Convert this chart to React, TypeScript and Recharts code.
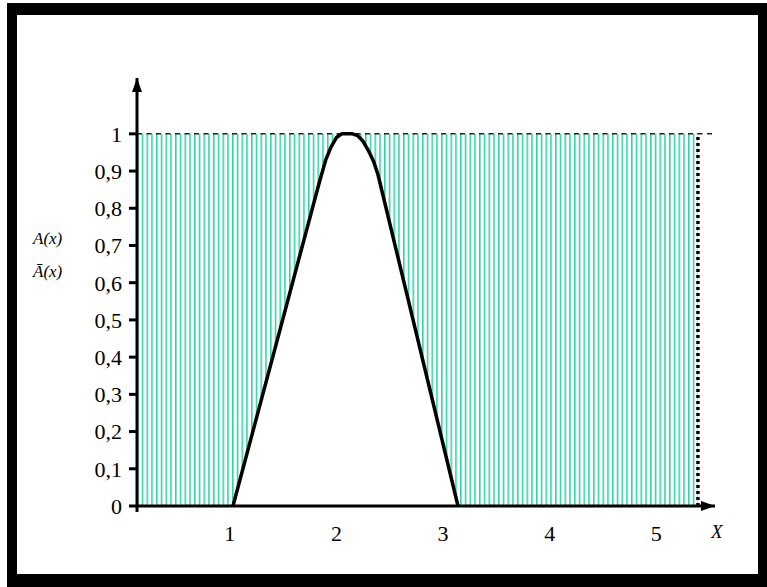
import React from 'react';
import {
    ComposedChart,
    Area,
    Line,
    XAxis,
    YAxis,
    ReferenceLine,
    ReferenceDot,
} from 'recharts';

// membership curve A(x), sampled along x (denser near the rounded top)
const xs = [0.13, 1.03, 1.84, 1.9, 1.95, 2.0, 2.05, 2.1, 2.15, 2.2, 2.25, 2.3, 2.35, 2.39, 3.14, 5.39];
const membership = [0, 0, 0.87, 0.93, 0.965, 0.99, 1, 1, 1, 0.995, 0.98, 0.955, 0.925, 0.89, 0, 0];
// where the black curve is drawn (ends sit on the axis itself)
const curveShown = [false, true, true, true, true, true, true, true, true, true, true, true, true, true, true, false];

const xTicks = [1, 2, 3, 4, 5];
const yTicks = [0, 0.1, 0.2, 0.3, 0.4, 0.5, 0.6, 0.7, 0.8, 0.9, 1];

const X_MIN = 0.13;
const X_MAX = 5.55;
const X_EDGE = 5.39;
const Y_MAX = 1.15;

const data = xs.map((x, i) => ({
    x,
    curve: curveShown[i] ? membership[i] : null,
    // complement band, from the curve up to 1
    band: [membership[i], 1],
}));

const serif = '"Liberation Serif", "DejaVu Serif", serif';

const ArrowUp = (props: any) => {
    const { cx, cy } = props;
    return <polygon points={`${cx},${cy} ${cx - 5},${cy + 14} ${cx + 5},${cy + 14}`} fill="#000" />;
};

const ArrowRight = (props: any) => {
    const { cx, cy } = props;
    return <polygon points={`${cx},${cy} ${cx - 14},${cy - 5} ${cx - 14},${cy + 5}`} fill="#000" />;
};

export default function App() {
    return (
        <div style={{ position: 'relative', width: 767, height: 587, background: '#fff', overflow: 'hidden' }}>
            <style>{'body{margin:0}'}</style>

            {/* black frame */}
            <div
                style={{
                    position: 'absolute',
                    left: 7,
                    top: 3,
                    width: 760,
                    height: 584,
                    boxSizing: 'border-box',
                    borderStyle: 'solid',
                    borderColor: '#000',
                    borderWidth: '12px 9px 13px 10px',
                    background: '#fff',
                }}
            />

            <svg width={0} height={0} style={{ position: 'absolute' }}>
                <defs>
                    <pattern id="hatch" patternUnits="userSpaceOnUse" x={137} y={0} width={9.5} height={10}>
                        <line x1={0.8} y1={0} x2={0.8} y2={10} stroke="#22d39e" strokeWidth={1.5} />
                        <line x1={5.5} y1={0} x2={5.5} y2={10} stroke="#22d39e" strokeWidth={1.5} />
                    </pattern>
                </defs>
            </svg>

            <div style={{ position: 'absolute', left: 0, top: 0 }}>
                <ComposedChart
                    width={767}
                    height={587}
                    data={data}
                    margin={{ top: 78, right: 52, bottom: 41, left: 0 }}
                >
                    <XAxis
                        dataKey="x"
                        type="number"
                        domain={[X_MIN, X_MAX]}
                        ticks={xTicks}
                        allowDataOverflow
                        height={40}
                        axisLine={{ stroke: '#000', strokeWidth: 3 }}
                        tickLine={false}
                        tickSize={0}
                        tickMargin={19}
                        tick={{ fill: '#000', fontSize: 22, fontFamily: serif }}
                    />
                    <YAxis
                        type="number"
                        domain={[0, Y_MAX]}
                        ticks={yTicks}
                        allowDataOverflow
                        width={137}
                        axisLine={{ stroke: '#000', strokeWidth: 3 }}
                        tickLine={{ stroke: '#000', strokeWidth: 3 }}
                        tickSize={8}
                        tickMargin={7}
                        tickFormatter={(v: number) => String(v).replace('.', ',')}
                        tick={{ fill: '#000', fontSize: 22, fontFamily: serif }}
                    />

                    <Area
                        dataKey="band"
                        type="linear"
                        stroke="none"
                        fill="url(#hatch)"
                        fillOpacity={1}
                        isAnimationActive={false}
                    />

                    {/* dashed level y = 1 */}
                    <ReferenceLine
                        segment={[{ x: X_MIN, y: 1 }, { x: X_MAX, y: 1 }]}
                        stroke="#222"
                        strokeWidth={1.5}
                        strokeDasharray="5 4.5"
                        ifOverflow="visible"
                    />
                    {/* dotted right boundary */}
                    <ReferenceLine
                        segment={[{ x: X_EDGE, y: 0 }, { x: X_EDGE, y: 1 }]}
                        stroke="#000"
                        strokeWidth={3.5}
                        strokeDasharray="3 3"
                        ifOverflow="visible"
                    />
                    {/* short stub of the y axis below the origin */}
                    <ReferenceLine
                        segment={[{ x: X_MIN, y: 0 }, { x: X_MIN, y: -0.016 }]}
                        stroke="#000"
                        strokeWidth={3}
                        ifOverflow="visible"
                    />

                    <Line
                        dataKey="curve"
                        type="linear"
                        stroke="#000"
                        strokeWidth={3.5}
                        strokeLinejoin="round"
                        dot={false}
                        activeDot={false}
                        isAnimationActive={false}
                    />

                    <ReferenceDot x={X_MIN} y={Y_MAX} r={0} shape={ArrowUp} ifOverflow="visible" />
                    <ReferenceDot x={X_MAX} y={0} r={0} shape={ArrowRight} ifOverflow="visible" />
                </ComposedChart>
            </div>

            <div style={{ position: 'absolute', left: 33, top: 230, fontFamily: serif, fontStyle: 'italic', fontSize: 17, lineHeight: '18px' }}>
                A(x)
            </div>
            <div style={{ position: 'absolute', left: 33, top: 263, fontFamily: serif, fontStyle: 'italic', fontSize: 17, lineHeight: '18px' }}>
                Ā(x)
            </div>
            <div style={{ position: 'absolute', left: 711, top: 522, fontFamily: serif, fontStyle: 'italic', fontSize: 19, lineHeight: '20px' }}>
                X
            </div>
        </div>
    );
}
